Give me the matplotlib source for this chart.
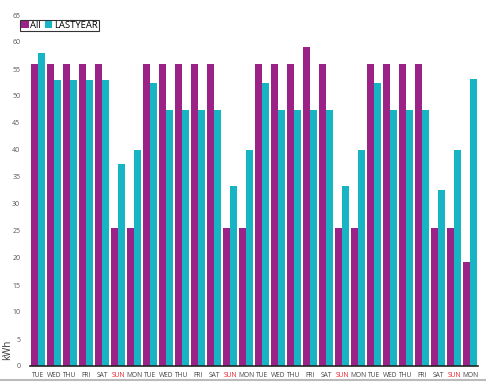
import numpy as np
import matplotlib
matplotlib.use('Agg')
import matplotlib.pyplot as plt
from matplotlib.lines import Line2D

plt.rcParams['font.family'] = ['Open Sans', 'DejaVu Sans']

# data
days = ['TUE', 'WED', 'THU', 'FRI', 'SAT', 'SUN', 'MON'] * 4
all_kwh = [56, 56, 56, 56, 56, 25.6, 25.6,
           56, 56, 56, 56, 56, 25.6, 25.6,
           56, 56, 56, 59, 56, 25.6, 25.6,
           56, 56, 56, 56, 25.6, 25.6, 19.3]
lastyear_kwh = [58, 53, 53, 53, 53, 37.5, 40,
                52.4, 47.4, 47.4, 47.4, 47.4, 33.3, 40,
                52.4, 47.4, 47.4, 47.4, 47.4, 33.3, 40,
                52.4, 47.4, 47.4, 47.4, 32.6, 40, 53.1]
yticks = list(range(0, 70, 5))

purple = '#9b2387'
teal = '#17b5c4'

fig = plt.figure(figsize=(4.86, 3.82), dpi=100)
ax = fig.add_axes([30/486, 1-366/382, 448/486, 351/382])

x = np.arange(len(days))
w = 0.41
ax.bar(x - w/2 - 0.03, all_kwh, width=w, color=purple, label='All')
ax.bar(x + w/2 + 0.03, lastyear_kwh, width=w, color=teal, label='LASTYEAR')

ax.set_xlim(-0.5, len(days) - 0.5)
ax.set_ylim(0, 65)
ax.set_yticks(yticks)
ax.set_yticklabels([str(t) for t in yticks], fontsize=5, color='#555555')
ax.set_xticks(x)
ax.set_xticklabels(days, fontsize=4.8, color='#444444')
for lab in ax.get_xticklabels():
    if lab.get_text() == 'SUN':
        lab.set_color('#e8202a')
ax.tick_params(axis='both', length=0, pad=4)
ax.tick_params(axis='y', pad=7)

for s in ['top', 'right', 'left']:
    ax.spines[s].set_visible(False)
ax.spines['bottom'].set_color('#222222')
ax.spines['bottom'].set_linewidth(1.2)

fig.text(8/486, 1-350/382, 'kWh', rotation=90, fontsize=7, color='#333333',
         ha='center', va='center')

leg = fig.legend(loc='upper left', bbox_to_anchor=(20/486, 1-20/382), ncol=2,
                 fontsize=6.8, frameon=True, fancybox=False, handlelength=0.8,
                 handleheight=0.8, handletextpad=0.2, columnspacing=0.4,
                 borderpad=0.1, borderaxespad=0)
leg.get_frame().set_edgecolor('black')
leg.get_frame().set_linewidth(0.8)

# light frame line at the bottom of the picture
fig.add_artist(Line2D([0, 1], [1-380/382, 1-380/382], color='#bbbbbb', lw=1.5,
                      transform=fig.transFigure))

fig.savefig('out.png', dpi=100)
